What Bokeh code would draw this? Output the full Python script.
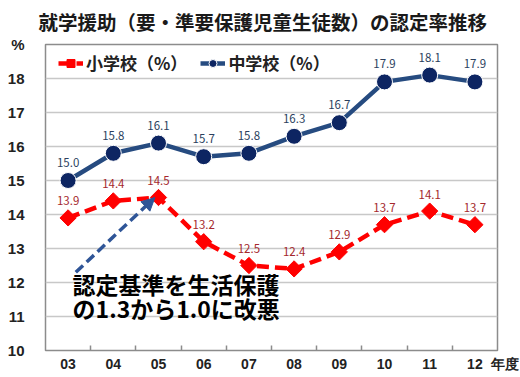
import math
from bokeh.plotting import figure
from bokeh.models import (Range1d, FixedTicker, Legend, LegendItem, Label,
                          Arrow, NormalHead, ColumnDataSource)
from bokeh.core.properties import value
from bokeh.embed import file_html
from bokeh.resources import INLINE

# ---- data ----
years = ["03", "04", "05", "06", "07", "08", "09", "10", "11", "12"]
elementary = [13.9, 14.4, 14.5, 13.2, 12.5, 12.4, 12.9, 13.7, 14.1, 13.7]
junior = [15.0, 15.8, 16.1, 15.7, 15.8, 16.3, 16.7, 17.9, 18.1, 17.9]
y_ticks = [10, 11, 12, 13, 14, 15, 16, 17, 18]
grid_ticks = [11, 12, 13, 14, 15, 16, 17, 18]
title_text = "就学援助（要・準要保護児童生徒数）の認定率推移"
elem_name = "小学校（%）"
junior_name = "中学校（%）"
note_lines = ["認定基準を生活保護", "の1.3から1.0に改悪"]
y_unit = "%"
x_unit = "\u3000年度"

JP = "Noto Sans CJK JP"
RED = "#FF0000"
NAVY_LINE = "#264B80"
NAVY_MARK = "#0D2562"

xs = list(range(len(years)))
src = ColumnDataSource(dict(
    x=xs, e=elementary, j=junior,
    e_lab=[f"{v:.1f}" for v in elementary],
    j_lab=[f"{v:.1f}" for v in junior],
    e_ly=[v + 0.5 for v in elementary],
    j_ly=[v + 0.53 for v in junior],
))

y_top = 19
x_end = len(years) - 0.5
p = figure(width=520, height=377, output_backend="svg", toolbar_location=None,
           x_range=Range1d(-0.5, x_end), y_range=Range1d(10, y_top),
           min_border_left=45, min_border_right=23, min_border_top=44,
           min_border_bottom=27)
p.background_fill_color = "white"
p.border_fill_color = "white"
p.outline_line_color = "#8c8c8c"
p.outline_line_width = 1.5

# title
p.title.text = title_text
p.title.align = "left"
p.title.offset = -7
p.title.standoff = 19
p.title.text_font = "Roboto, Noto Sans CJK JP"
p.title.text_font_size = "19.5px"
p.title.text_font_style = "bold"
p.title.text_color = "#1a1a1a"

# axes
p.xaxis.ticker = FixedTicker(ticks=xs + [x_end],
                             minor_ticks=[i + 0.5 for i in xs[:-1]])
overrides = {i: y for i, y in enumerate(years)}
overrides[x_end] = x_unit
p.xaxis.major_label_overrides = overrides
p.xaxis.axis_line_color = None
p.xaxis.major_tick_in = 0
p.xaxis.major_tick_out = 0
p.xaxis.minor_tick_in = 5
p.xaxis.minor_tick_out = 0
p.xaxis.minor_tick_line_color = "#8c8c8c"
p.xaxis.minor_tick_line_width = 1.5
p.xaxis.major_label_standoff = 5
p.xaxis.major_label_text_font_size = "14px"
p.xaxis.major_label_text_font_style = "bold"
p.xaxis.major_label_text_color = "#222222"

p.yaxis.ticker = FixedTicker(ticks=y_ticks + [y_top])
p.yaxis.major_label_overrides = {y_top: y_unit}
p.yaxis.axis_line_color = None
p.yaxis.major_tick_in = 0
p.yaxis.major_tick_out = 0
p.yaxis.minor_tick_line_color = None
p.yaxis.major_label_standoff = 21
p.yaxis.major_label_text_font_size = "15px"
p.yaxis.major_label_text_font_style = "bold"
p.yaxis.major_label_text_color = "#222222"

p.xgrid.grid_line_color = None
p.ygrid.ticker = FixedTicker(ticks=grid_ticks)
p.ygrid.grid_line_color = "#c8c8c8"
p.ygrid.grid_line_width = 1.5

# series
jl = p.line("x", "j", source=src, line_color=NAVY_LINE, line_width=4.5)
js = p.scatter("x", "j", source=src, marker="circle", size=16,
               fill_color=NAVY_MARK, line_color="white", line_width=1)
el = p.line("x", "e", source=src, line_color=RED, line_width=4.5,
            line_dash="12 6")
es = p.scatter("x", "e", source=src, marker="square", angle=math.pi / 4,
               size=11.5, fill_color=RED, line_color=RED, line_width=1)

p.text("x", "j_ly", text="j_lab", source=src, text_align="center",
       text_baseline="middle", text_font_size="11.5px", text_color="#2B3F5E",
       text_font=value(JP))
p.text("x", "e_ly", text="e_lab", source=src, text_align="center",
       text_baseline="middle", text_font_size="11.5px", text_color="#A5282D",
       text_font=value(JP))

legend = Legend(items=[LegendItem(label=elem_name, renderers=[el, es]),
                       LegendItem(label=junior_name, renderers=[jl, js])],
                location=(4, 266), orientation="horizontal",
                margin=0, padding=9, spacing=13, glyph_width=25,
                glyph_height=20, label_standoff=3,
                label_text_font=JP, label_text_font_size="17px",
                label_text_font_style="bold", label_text_color="#222222",
                border_line_alpha=0, background_fill_alpha=0)
p.add_layout(legend)

# arrow
p.add_layout(Arrow(x_start=0.17, y_start=12.3, x_end=1.92, y_end=14.5,
                   line_color="#2F5597", line_width=3.5, line_dash="10 5",
                   end=NormalHead(size=13, fill_color="#2F5597",
                                  line_color="#2F5597")))

# annotation text
p.add_layout(Label(x=0.1, y=11.97, text=note_lines[0], text_font=JP,
                   text_font_size="23px", text_font_style="bold",
                   text_color="black", text_baseline="middle"))
p.add_layout(Label(x=0.1, y=11.25, text=note_lines[1], text_font=JP,
                   text_font_size="23px", text_font_style="bold",
                   text_color="black", text_baseline="middle"))

open("out.html", "w").write(file_html(p, INLINE))
